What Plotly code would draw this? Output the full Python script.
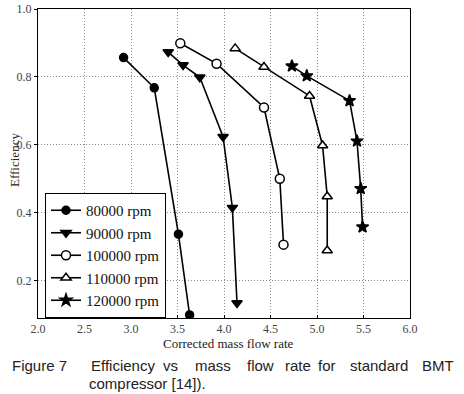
import plotly.graph_objects as go

speeds = ["80000 rpm", "90000 rpm", "100000 rpm", "110000 rpm", "120000 rpm"]
flow_80 = [2.92, 3.25, 3.51, 3.63]
eff_80 = [0.857, 0.768, 0.337, 0.099]
flow_90 = [3.40, 3.56, 3.74, 3.99, 4.09, 4.14]
eff_90 = [0.873, 0.835, 0.799, 0.624, 0.415, 0.134]
flow_100 = [3.53, 3.92, 4.43, 4.60, 4.64]
eff_100 = [0.899, 0.839, 0.710, 0.500, 0.306]
flow_110 = [4.12, 4.43, 4.92, 5.06, 5.11, 5.11]
eff_110 = [0.884, 0.829, 0.744, 0.598, 0.448, 0.289]
flow_120 = [4.73, 4.89, 5.35, 5.43, 5.47, 5.49]
eff_120 = [0.832, 0.803, 0.730, 0.611, 0.471, 0.358]

xticks = [2.0, 2.5, 3.0, 3.5, 4.0, 4.5, 5.0, 5.5, 6.0]
yticks = [0.2, 0.4, 0.6, 0.8, 1.0]

series = [
    (flow_80, eff_80, "circle", "black", 8),
    (flow_90, eff_90, "triangle-down", "black", 9),
    (flow_100, eff_100, "circle", "white", 9),
    (flow_110, eff_110, "triangle-up", "white", 9),
    (flow_120, eff_120, "star", "black", 9),
]

W, H = 464, 394
L, R, T, B = 38, 54, 9, 76
PW, PH = W - L - R, H - T - B

def px(x):
    return (x - L) / PW

def py(y):
    return 1 - (y - T) / PH

fig = go.Figure()
for name, (xs, ys, sym, fill, sz) in zip(speeds, series):
    fig.add_trace(go.Scatter(
        x=xs, y=ys, mode="lines+markers", name=name,
        line=dict(color="black", width=1.6),
        marker=dict(symbol=sym, color=fill, size=sz, line=dict(color="black", width=1.5)),
    ))

serif = "Liberation Serif"
axis_common = dict(
    showline=True, linecolor="black", linewidth=1, mirror=True,
    ticklen=3, tickcolor="black",
    showgrid=True, gridcolor="#8a8a8a", griddash="1px,2px", gridwidth=1,
    zeroline=False, tickfont=dict(family=serif, size=12, color="#444"),
    automargin=False,
)
fig.update_xaxes(range=[2, 6], tickvals=xticks, tickformat=".1f", ticks="inside", **axis_common)
fig.update_yaxes(range=[0.09, 1.0], tickvals=yticks, tickformat=".1f", ticks="outside", **axis_common)

title_font = dict(family=serif, size=13, color="#222")
fig.add_annotation(text="Corrected mass flow rate", x=px(228), y=py(343), xref="paper", yref="paper",
                   xanchor="center", yanchor="middle", showarrow=False, font=title_font)
fig.add_annotation(text="Efficiency", x=px(14), y=py(160), xref="paper", yref="paper",
                   xanchor="center", yanchor="middle", textangle=-90, showarrow=False, font=title_font)

# caption
cap_font = dict(family="Liberation Sans", size=15, color="#222")
fig.add_annotation(text="Figure 7", x=px(10), y=py(365), xref="paper", yref="paper",
                   xanchor="left", yanchor="middle", showarrow=False, font=cap_font)
words1 = [("Efficiency", 122.5), ("vs", 170), ("mass", 213), ("flow", 260),
          ("rate", 297.5), ("for", 326.5), ("standard", 378.5), ("BMT", 438)]
for w, xc in words1:
    fig.add_annotation(text=w, x=px(xc), y=py(365), xref="paper", yref="paper",
                       xanchor="center", yanchor="middle", showarrow=False, font=cap_font)
fig.add_annotation(text="compressor [14]).", x=px(87), y=py(384), xref="paper", yref="paper",
                   xanchor="left", yanchor="middle", showarrow=False, font=cap_font)

fig.update_layout(
    width=W, height=H, margin=dict(l=L, r=R, t=T, b=B, autoexpand=False),
    paper_bgcolor="white", plot_bgcolor="white",
    legend=dict(x=px(45), y=py(193), xanchor="left", yanchor="top",
                bgcolor="white", bordercolor="black", borderwidth=1,
                font=dict(family=serif, size=15, color="#111"), itemwidth=30),
)
fig.write_html("out.html", config={"displayModeBar": False},
               post_script="document.body.style.margin='0';document.body.style.overflow='hidden';")
